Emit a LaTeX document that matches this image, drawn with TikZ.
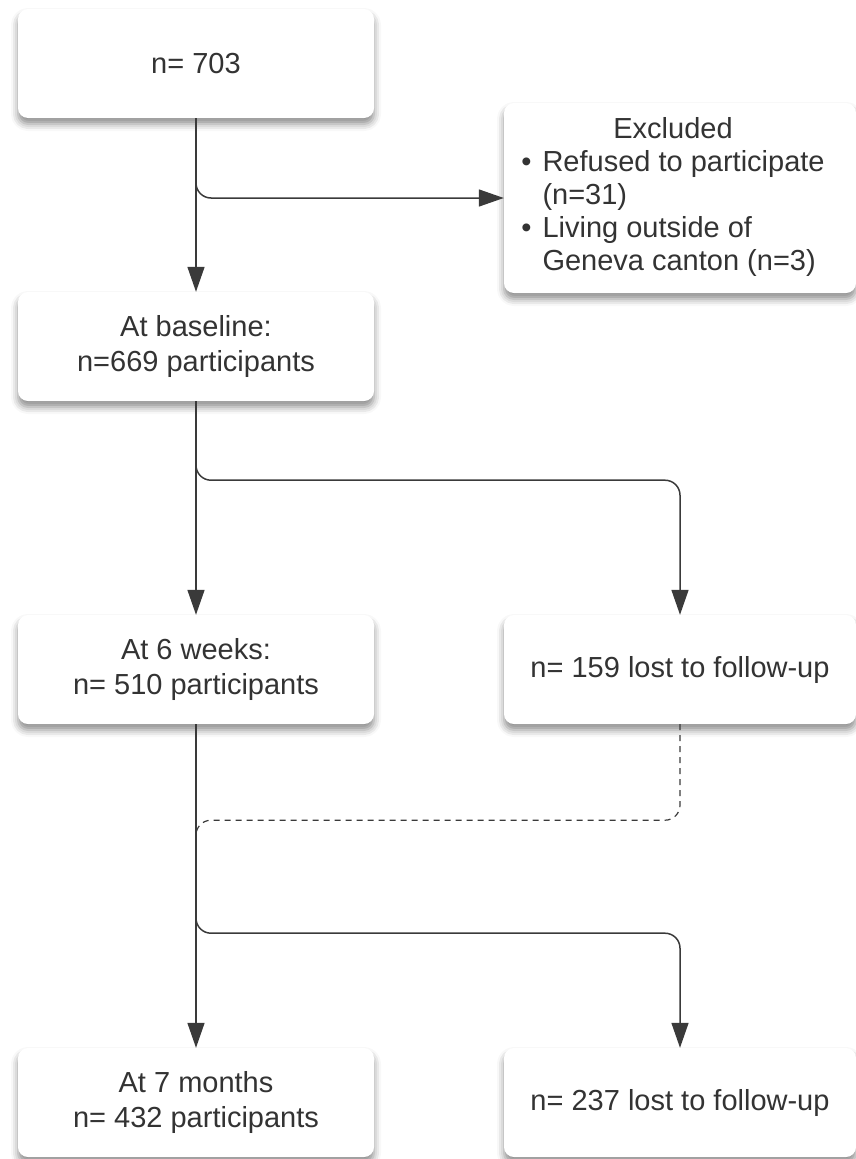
\documentclass[tikz,border=0pt]{standalone}
\usepackage{fontspec}
\setmainfont{Liberation Sans}
\usepackage{tikz}
\usetikzlibrary{arrows.meta,positioning,calc,shadows.blur}
\definecolor{InkGrey}{HTML}{333333}
\definecolor{LineGrey}{HTML}{3A3A3A}

\begin{document}
\begin{tikzpicture}[
  x=1pt, y=-1pt,
  stagebox/.style={fill=white, rounded corners=10pt, minimum width=356pt, minimum height=109pt, inner sep=0pt, align=center, text=InkGrey, font=\fontsize{29}{35}\selectfont, blur shadow={shadow xshift=0pt, shadow yshift=-6pt, shadow blur radius=7pt, shadow opacity=45}},
  lostbox/.style={stagebox, minimum width=352pt},
  flow/.style={draw=LineGrey, line width=1.5pt, rounded corners=15pt, -{Triangle[length=25pt,width=17pt]}},
  dropout/.style={draw=LineGrey, line width=1.2pt, rounded corners=15pt, dash pattern=on 6pt off 5pt}
]
\useasboundingbox (0,0) rectangle (856,1159);
\node[stagebox] (enrolled) at (196,63.5) {n= 703};
\node[lostbox, minimum height=190pt, font=\fontsize{29}{33}\selectfont] (excluded) at (680,198) {\begin{tabular}{@{}l@{}l@{}}
  \multicolumn{2}{c}{Excluded}\\
  \textbullet\hspace{11pt} & Refused to participate\\
   & (n=31)\\
  \textbullet\hspace{11pt} & Living outside of\\
   & Geneva canton (n=3)
\end{tabular}\hspace*{14pt}};
\node[stagebox] (baseline) at (196,346.5) {At baseline:\\n=669 participants};
\node[stagebox] (weeks) at (196,669.5) {At 6 weeks:\\n= 510 participants};
\node[lostbox] (lostweeks) at (680,669.5) {n= 159 lost to follow-up};
\node[stagebox] (months) at (196,1102.5) {At 7 months\\n= 432 participants};
\node[lostbox] (lostmonths) at (680,1102.5) {n= 237 lost to follow-up};

% main line and exits
\draw[flow] (enrolled.south) -- (baseline.north);
\draw[flow] (enrolled.south) |- (excluded.west);
\draw[flow] (baseline.south) -- (weeks.north);
\draw[flow] (baseline.south) -- ++(0,-79pt) -| (lostweeks.north);
\draw[flow] (weeks.south) -- (months.north);
\draw[flow] (weeks.south) -- ++(0,-209pt) -| (lostmonths.north);
\draw[dropout] (lostweeks.south) -- ++(0,-96pt) -| ($(weeks.south)+(0,-112pt)$);
\end{tikzpicture}
\end{document}
